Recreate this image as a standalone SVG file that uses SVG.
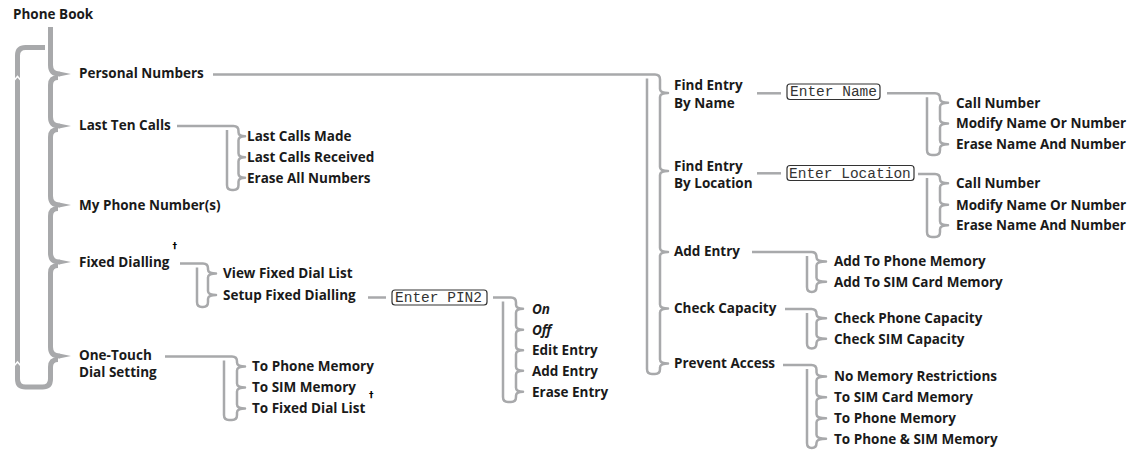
<svg xmlns="http://www.w3.org/2000/svg" width="1137" height="450" viewBox="0 0 1137 450">
<style>
.t{font-family:"Open Sans","Noto Sans",sans-serif;font-weight:700;font-size:13.5px;fill:#1a1a1a}
.i{font-style:italic}
.d{font-family:"DejaVu Sans",sans-serif;font-weight:700;font-size:9px;fill:#000}
.lcd{font-family:"Liberation Mono","DejaVu Sans Mono",monospace;font-size:14.5px;fill:#333}
.box{fill:#fff;stroke:#333;stroke-width:1.2}
.c{fill:none;stroke:#a8a9ab;stroke-width:2.5;stroke-linejoin:round}
.k{fill:none;stroke:#a8a9ab;stroke-width:5}
.tip{fill:#a8a9ab}
.notch{fill:none;stroke:#fff;stroke-width:1.5}
</style>
<rect width="1137" height="450" fill="#fff"/>
<g id="connectors">
  <path class="k" d="M50.5,27 V65 Q50.5,74 59.5,74"/>
  <path class="k" d="M58,77.5 Q50.5,77.5 50.5,85 V117 Q50.5,126 59.5,126"/>
  <path class="k" d="M58,129.5 Q50.5,129.5 50.5,137 V196 Q50.5,205 59.5,205"/>
  <path class="k" d="M58,208.5 Q50.5,208.5 50.5,216 V253 Q50.5,262 59.5,262"/>
  <path class="k" d="M58,265.5 Q50.5,265.5 50.5,273 V347 Q50.5,356 59.5,356"/>
  <path class="k" d="M58,359.5 Q50.5,359.5 50.5,367 V379 Q50.5,387 42.5,387 H25.5 Q17.5,387 17.5,379 V55.5 Q17.5,47.5 25.5,47.5 H45"/>
  <polygon class="tip" points="59,71.5 71,74 59,76.5"/>
  <polygon class="tip" points="59,123.5 71,126 59,128.5"/>
  <polygon class="tip" points="59,202.5 71,205 59,207.5"/>
  <polygon class="tip" points="59,259.5 71,262 59,264.5"/>
  <polygon class="tip" points="59,353.5 71,356 59,358.5"/>
  <path class="notch" d="M14,80.5 L17.5,76.5 L21,80.5"/>
  <path class="notch" d="M14,366 L17.5,362 L21,366"/>

  <path class="c" d="M177,126 H233.5 Q238.5,126 238.5,131 V132.2 Q238.5,136.2 245,136.2 Q238.5,136.2 238.5,140.2 V153.2 Q238.5,157.2 245,157.2 Q238.5,157.2 238.5,161.2 V173.7 Q238.5,177.7 245,177.7 Q238.5,177.7 238.5,181.7 V185 Q238.5,190 233.5,190 H232 Q227,190 227,185 V130"/>
  <path class="c" d="M180,263.5 H203 Q208,263.5 208,268.5 V269.5 Q208,273.5 216,273.5 Q208,273.5 208,277.5 V291 Q208,295 216,295 Q208,295 208,299 V302 Q208,307 203,307 H202 Q197,307 197,302 V267.5"/>
  <path class="c" d="M165,356.5 H232 Q237,356.5 237,361.5 V362.5 Q237,366.5 245,366.5 Q237,366.5 237,370.5 V383.5 Q237,387.5 245,387.5 Q237,387.5 237,391.5 V404.5 Q237,408.5 245,408.5 Q237,408.5 237,412.5 V415 Q237,420 232,420 H229 Q224,420 224,415 V360.5"/>
  <path class="c" d="M368,297.5 H386"/>
  <path class="c" d="M493,297.5 H511 Q516,297.5 516,302.5 V304.7 Q516,308.7 523,308.7 Q516,308.7 516,312.7 V325.7 Q516,329.7 523,329.7 Q516,329.7 516,333.7 V346.2 Q516,350.2 523,350.2 Q516,350.2 516,354.2 V366.7 Q516,370.7 523,370.7 Q516,370.7 516,374.7 V387.7 Q516,391.7 523,391.7 Q516,391.7 516,395.7 V397 Q516,402 511,402 H508 Q503,402 503,397 V301.5"/>

  <path class="c" d="M213,74.5 H655 Q660,74.5 660,79.5 V89 Q660,93 668,93 Q660,93 660,97 V167 Q660,171 668,171 Q660,171 660,175 V248 Q660,252 668,252 Q660,252 660,256 V304.5 Q660,308.5 668,308.5 Q660,308.5 660,312.5 V359.5 Q660,363.5 668,363.5 Q660,363.5 660,367.5 V369 Q660,374 655,374 H652 Q647,374 647,369 V78.5"/>
  <path class="c" d="M757,93.3 H781"/>
  <path class="c" d="M887,93.3 H935 Q940,93.3 940,98.3 V98.7 Q940,102.7 948,102.7 Q940,102.7 940,106.7 V119.5 Q940,123.5 948,123.5 Q940,123.5 940,127.5 V140.2 Q940,144.2 948,144.2 Q940,144.2 940,148.2 V150 Q940,155 935,155 H932 Q927,155 927,150 V97.3"/>
  <path class="c" d="M757,173.3 H781"/>
  <path class="c" d="M918,174 H935 Q940,174 940,179 V179.2 Q940,183.2 948,183.2 Q940,183.2 940,187.2 V200.7 Q940,204.7 948,204.7 Q940,204.7 940,208.7 V221.2 Q940,225.2 948,225.2 Q940,225.2 940,229.2 V232 Q940,237 935,237 H932 Q927,237 927,232 V178"/>
  <path class="c" d="M752,252 H811.5 Q816.5,252 816.5,257 V257.5 Q816.5,261.5 826,261.5 Q816.5,261.5 816.5,265.5 V277.7 Q816.5,281.7 826,281.7 Q816.5,281.7 816.5,285.7 V287 Q816.5,292 811.75,292 Q807,292 807,287 V256"/>
  <path class="c" d="M785,309 H811.5 Q816.5,309 816.5,314 V314.2 Q816.5,318.2 826,318.2 Q816.5,318.2 816.5,322.2 V334.8 Q816.5,338.8 826,338.8 Q816.5,338.8 816.5,342.8 V343.5 Q816.5,348.5 811.75,348.5 Q807,348.5 807,343.5 V313"/>
  <path class="c" d="M783,365 H811.5 Q816.5,365 816.5,370 V372.5 Q816.5,376.5 826,376.5 Q816.5,376.5 816.5,380.5 V393.2 Q816.5,397.2 826,397.2 Q816.5,397.2 816.5,401.2 V414.2 Q816.5,418.2 826,418.2 Q816.5,418.2 816.5,422.2 V434.7 Q816.5,438.7 826,438.7 Q816.5,438.7 816.5,442.7 V443 Q816.5,448 811.75,448 Q807,448 807,443 V369"/>
</g>
<g id="phone-book"><text class="t" x="13" y="19">Phone Book</text></g>
<g id="personal-numbers"><text class="t" x="79" y="78">Personal Numbers</text></g>
<g id="last-ten-calls"><text class="t" x="79" y="130">Last Ten Calls</text></g>
<g id="my-phone-numbers"><text class="t" x="79" y="210">My Phone Number(s)</text></g>
<g id="fixed-dialling"><text class="t" x="79" y="266.5">Fixed Dialling</text><text class="d" x="172.5" y="249">†</text></g>
<g id="one-touch"><text class="t" x="79" y="360">One-Touch</text><text class="t" x="79" y="377">Dial Setting</text></g>
<g id="last-calls-made"><text class="t" x="247" y="141">Last Calls Made</text></g>
<g id="last-calls-received"><text class="t" x="247" y="162">Last Calls Received</text></g>
<g id="erase-all-numbers"><text class="t" x="247" y="182.5">Erase All Numbers</text></g>
<g id="view-fixed-dial-list"><text class="t" x="223" y="278">View Fixed Dial List</text></g>
<g id="setup-fixed-dialling"><text class="t" x="223" y="300">Setup Fixed Dialling</text></g>
<g id="enter-pin2"><rect class="box" x="392" y="290" width="95" height="15" rx="3"/><text class="lcd" x="395" y="302">Enter PIN2</text></g>
<g id="on"><text class="t i" x="532" y="313.5">On</text></g>
<g id="off"><text class="t i" x="532" y="334.5">Off</text></g>
<g id="edit-entry"><text class="t" x="532" y="355">Edit Entry</text></g>
<g id="add-entry-pin"><text class="t" x="532" y="375.5">Add Entry</text></g>
<g id="erase-entry"><text class="t" x="532" y="396.5">Erase Entry</text></g>
<g id="to-phone-memory"><text class="t" x="252" y="371">To Phone Memory</text></g>
<g id="to-sim-memory"><text class="t" x="252" y="392">To SIM Memory</text><text class="d" x="369" y="398">†</text></g>
<g id="to-fixed-dial-list"><text class="t" x="252" y="413">To Fixed Dial List</text></g>
<g id="find-by-name"><text class="t" x="674" y="90.3">Find Entry</text><text class="t" x="674" y="108">By Name</text></g>
<g id="enter-name"><rect class="box" x="787" y="84" width="93" height="15.5" rx="3"/><text class="lcd" x="790" y="96.3">Enter Name</text></g>
<g id="name-call"><text class="t" x="956" y="107.5">Call Number</text></g>
<g id="name-modify"><text class="t" x="956" y="128.3">Modify Name Or Number</text></g>
<g id="name-erase"><text class="t" x="956" y="149">Erase Name And Number</text></g>
<g id="find-by-location"><text class="t" x="674" y="171.3">Find Entry</text><text class="t" x="674" y="188">By Location</text></g>
<g id="enter-location"><rect class="box" x="787" y="165.5" width="127" height="15" rx="3"/><text class="lcd" x="789" y="177.5">Enter Location</text></g>
<g id="loc-call"><text class="t" x="956" y="188">Call Number</text></g>
<g id="loc-modify"><text class="t" x="956" y="209.5">Modify Name Or Number</text></g>
<g id="loc-erase"><text class="t" x="956" y="230">Erase Name And Number</text></g>
<g id="add-entry"><text class="t" x="674" y="256.3">Add Entry</text></g>
<g id="add-phone"><text class="t" x="834" y="266.3">Add To Phone Memory</text></g>
<g id="add-sim"><text class="t" x="834" y="286.5">Add To SIM Card Memory</text></g>
<g id="check-capacity"><text class="t" x="674" y="313">Check Capacity</text></g>
<g id="check-phone"><text class="t" x="834" y="323">Check Phone Capacity</text></g>
<g id="check-sim"><text class="t" x="834" y="343.6">Check SIM Capacity</text></g>
<g id="prevent-access"><text class="t" x="674" y="368">Prevent Access</text></g>
<g id="no-restrictions"><text class="t" x="834" y="381.3">No Memory Restrictions</text></g>
<g id="pa-sim"><text class="t" x="834" y="402">To SIM Card Memory</text></g>
<g id="pa-phone"><text class="t" x="834" y="423">To Phone Memory</text></g>
<g id="pa-both"><text class="t" x="834" y="443.5">To Phone &amp; SIM Memory</text></g>
</svg>
